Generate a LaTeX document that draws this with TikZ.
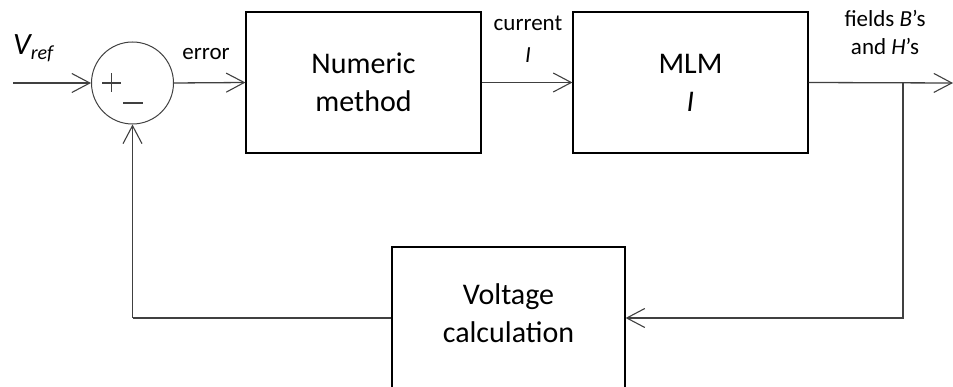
\documentclass[tikz,border=0pt]{standalone}
\usepackage{fontspec}
\setmainfont{Carlito}
\usetikzlibrary{arrows.meta}
\definecolor{linec}{HTML}{404040}
\tikzset{
  blk/.style={draw=black, line width=1.2pt, minimum width=235pt, minimum height=141pt, inner sep=0pt, align=center,
    font=\fontsize{30}{38}\selectfont},
  arr/.style={draw=linec, line width=1.3pt, -{Straight Barb[length=18pt,width=19pt,line width=1.1pt]}},
  conn/.style={draw=linec, line width=1.3pt},
  lbl/.style={inner sep=0pt, align=center, font=\fontsize{23}{30}\selectfont},
  sign/.style={draw=linec, line width=1.1pt}
}
\begin{document}
\begin{tikzpicture}[x=1pt,y=-1pt]
\useasboundingbox (0,0) rectangle (953,387);
\clip (0,0) rectangle (953,387);
% blocks
\node[blk] (num) at (363.5,82.5) {Numeric\\method};
\node[blk] (mlm) at (690.5,82.5) {MLM\\\textit{I}};
\node[draw=black, line width=1.2pt, minimum width=233pt, minimum height=150pt, inner sep=0pt] (volt) at (508.5,322) {};
\node[inner sep=0pt, align=center, font=\fontsize{30}{38}\selectfont] (vtxt) at (508.5,313.5) {Voltage\\calculation};
% summing junction
\node[draw=linec, line width=1pt, circle, minimum size=82pt, inner sep=0pt] (sum) at (132.5,83) {};
\coordinate (p1) at (102,83); \coordinate (p2) at (121,83);
\coordinate (p3) at (111.5,73.5); \coordinate (p4) at (111.5,92.5);
\coordinate (m1) at (123,103); \coordinate (m2) at (143,103);
\draw[sign] (p1) -- (p2);
\draw[sign] (p3) -- (p4);
\draw[sign] (m1) -- (m2);
% coordinates
\coordinate (in) at (13,83);
\coordinate (tap) at (903,83);
\coordinate (out) at (953,83);
\coordinate (fbr) at (903,318);
\coordinate (fbl) at (132.5,318);
% connectors
\draw[arr] (in) -- (sum.west);
\draw[arr] (sum.east) -- (num.west);
\draw[arr] (num.east) -- (mlm.west);
\draw[arr] (mlm.east) -- (out);
\draw[arr] (tap) -- (fbr) -- (fbr -| volt.east);
\draw[conn] (fbl -| volt.west) -- (fbl);
\draw[arr] (fbl) -- (sum.south);
% labels
\node[inner sep=0pt, anchor=base west] (vref) at (13,55) {\fontsize{31}{31}\selectfont\itshape V\raisebox{-5pt}{\fontsize{20}{20}\selectfont ref}};
\node[lbl, anchor=base] (err) at (206,60) {error};
\node[lbl] (cur) at (528,39) {current\\[2pt]\textit{I}};
\node[lbl] (fld) at (885,32) {fields \textit{B}’s\\[-2pt]and \textit{H}’s};
\end{tikzpicture}
\end{document}
